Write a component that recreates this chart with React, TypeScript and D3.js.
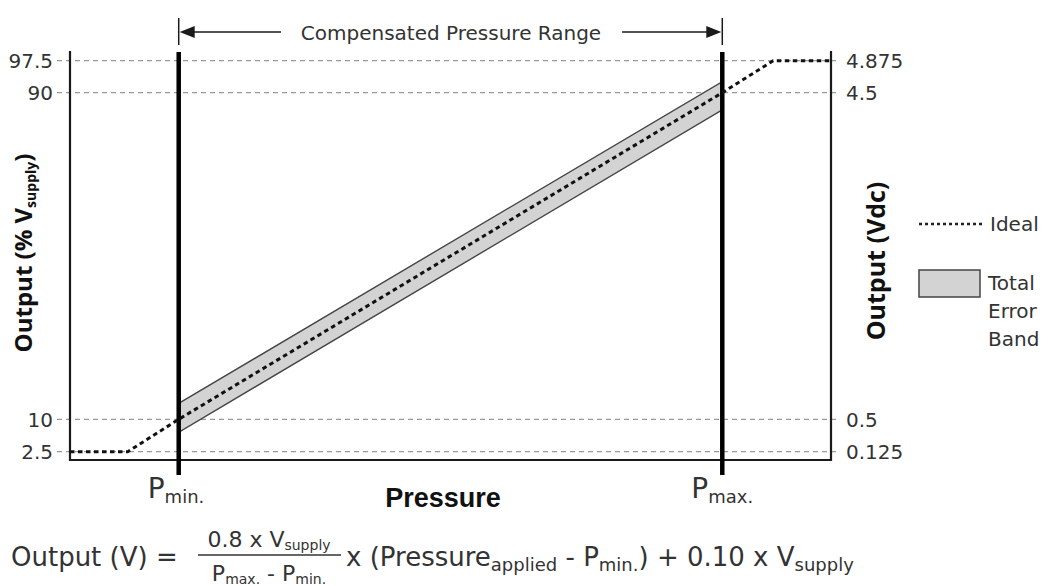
import React from "react";
import * as d3 from "d3";

// ---- data (normalized pressure: 0 = Pmin, 1 = Pmax) ----
const pressureExtent = [-0.2, 1.2];
const pctTicks = [2.5, 10, 90, 97.5];
const pctTickLabels = ["2.5", "10", "90", "97.5"];
const vdcTickLabels = ["0.125", "0.5", "4.5", "4.875"];
const idealP = [-0.2, -0.09375, 0, 1, 1.09375, 1.2];
const idealOut = [2.5, 2.5, 10, 90, 97.5, 97.5];
const bandP = [0, 1];
const bandUpper = [13.9, 92.6];
const bandLower = [7.0, 85.8];
const markerP = [0, 1];
const markerSubs = ["min.", "max."];
const legendBandLines = ["Total", "Error", "Band"];

const W = 1062;
const H = 586;
const TXT = "#333";
const LINE = "#1a1a1a";
const FONT = "'DejaVu Sans', 'Noto Sans', sans-serif";
const BOLD = "'Open Sans', 'Noto Sans', sans-serif";

export default function App() {
  const x = d3.scaleLinear().domain(pressureExtent).range([70, 831]);
  const y = d3
    .scaleLinear()
    .domain(pctTicks)
    .range([451.7, 419.3, 92.7, 60.7]);
  const yTop = 51;
  const yBottom = 460;

  const idealPts = idealP.map((p, i) => [p, idealOut[i]] as [number, number]);
  const idealPath = d3
    .line<[number, number]>()
    .x((d) => x(d[0]))
    .y((d) => y(d[1]))(idealPts) as string;

  const bandPts = bandP.map((p, i) => ({ p, lo: bandLower[i], hi: bandUpper[i] }));
  const bandPath = d3
    .area<{ p: number; lo: number; hi: number }>()
    .x((d) => x(d.p))
    .y0((d) => y(d.lo))
    .y1((d) => y(d.hi))(bandPts) as string;

  const xMin = x(0);
  const xMax = x(1);
  const arrowY = 32;

  return (
    <svg
      width={W}
      height={H}
      style={{ position: "absolute", left: 0, top: 0, background: "#fff" }}
      fontFamily={FONT}
    >
      <rect x={0} y={0} width={W} height={H} fill="#fff" />
      {/* grid lines */}
      {pctTicks.map((t, i) => (
        <g key={"g" + i}>
          <line
            x1={57}
            x2={840}
            y1={y(t)}
            y2={y(t)}
            stroke="#9a9a9a"
            strokeWidth={1.2}
            strokeDasharray="5 4"
          />
          <text
            x={53}
            y={y(t)}
            dy="0.36em"
            textAnchor="end"
            fontSize={20}
            fill={TXT}
          >
            {pctTickLabels[i]}
          </text>
          <text x={846} y={y(t)} dy="0.36em" fontSize={20} fill={TXT}>
            {vdcTickLabels[i]}
          </text>
        </g>
      ))}

      {/* error band */}
      <path d={bandPath} fill="#d3d3d3" stroke="#444" strokeWidth={1.4} />

      {/* axes frame */}
      <path
        d={`M${x(pressureExtent[0])},${yTop}V${yBottom}H${x(pressureExtent[1])}V${yTop}`}
        fill="none"
        stroke={LINE}
        strokeWidth={2.2}
      />

      {/* Pmin / Pmax lines */}
      {markerP.map((p, i) => (
        <line
          key={"m" + i}
          x1={x(p)}
          x2={x(p)}
          y1={52}
          y2={475}
          stroke="#000"
          strokeWidth={4.5}
        />
      ))}

      {/* ideal line */}
      <path
        d={idealPath}
        fill="none"
        stroke="#111"
        strokeWidth={3}
        strokeDasharray="4.5 3.5"
      />

      {/* compensated pressure range bracket */}
      <line x1={xMin} x2={xMin} y1={18} y2={45} stroke={LINE} strokeWidth={1.5} />
      <line x1={xMax} x2={xMax} y1={18} y2={45} stroke={LINE} strokeWidth={1.5} />
      <line x1={xMin + 10} x2={281} y1={arrowY} y2={arrowY} stroke={LINE} strokeWidth={1.5} />
      <line x1={622} x2={xMax - 10} y1={arrowY} y2={arrowY} stroke={LINE} strokeWidth={1.5} />
      <path
        d={`M${xMin + 1},${arrowY}L${xMin + 16},${arrowY - 6}L${xMin + 16},${arrowY + 6}Z`}
        fill={LINE}
      />
      <path
        d={`M${xMax - 1},${arrowY}L${xMax - 16},${arrowY - 6}L${xMax - 16},${arrowY + 6}Z`}
        fill={LINE}
      />
      <text x={451} y={40} textAnchor="middle" fontSize={20} fill={TXT}>
        Compensated Pressure Range
      </text>

      {/* P min / P max labels */}
      {markerP.map((p, i) => (
        <text key={"pl" + i} x={x(p) - 31} y={498} fontSize={28} fill={TXT}>
          P
          <tspan fontSize={18} dy={5}>
            {markerSubs[i]}
          </tspan>
        </text>
      ))}

      <text
        x={443}
        y={507}
        textAnchor="middle"
        fontSize={27}
        fontWeight="bold"
        fontFamily="'Liberation Sans', Arial, sans-serif"
        fill="#111"
      >
        Pressure
      </text>

      {/* axis titles */}
      <text
        transform="translate(32,253) rotate(-90)"
        textAnchor="middle"
        fontSize={24}
        fontWeight="bold"
        fontFamily={BOLD}
        fill="#111"
      >
        Output (% V
        <tspan fontSize={14} dy={4}>
          supply
        </tspan>
        <tspan dy={-4}>)</tspan>
      </text>
      <text
        transform="translate(885,261) rotate(-90)"
        textAnchor="middle"
        fontSize={25}
        fontWeight="bold"
        fontFamily={BOLD}
        fill="#111"
      >
        Output (Vdc)
      </text>

      {/* legend */}
      <line
        x1={919}
        x2={982}
        y1={224}
        y2={224}
        stroke="#222"
        strokeWidth={2.4}
        strokeDasharray="3 3"
      />
      <text x={990} y={231} fontSize={20} fill={TXT}>
        Ideal
      </text>
      <rect x={919} y={270} width={61} height={27} fill="#d3d3d3" stroke="#444" strokeWidth={1.5} />
      {legendBandLines.map((s, i) => (
        <text key={"lb" + i} x={988} y={290 + i * 28} fontSize={20} fill={TXT}>
          {s}
        </text>
      ))}

      {/* formula */}
      <text x={11} y={566} fontSize={26} fill={TXT}>
        Output (V) =
      </text>
      <text x={269} y={547} textAnchor="middle" fontSize={22} fill={TXT}>
        0.8 x V
        <tspan fontSize={14} dy={3}>
          supply
        </tspan>
      </text>
      <line x1={198} x2={341} y1={555} y2={555} stroke={TXT} strokeWidth={1.6} />
      <text x={269} y={581} textAnchor="middle" fontSize={22} fill={TXT}>
        P
        <tspan fontSize={14} dy={3}>
          max.
        </tspan>
        <tspan dy={-3}> - P</tspan>
        <tspan fontSize={14} dy={3}>
          min.
        </tspan>
      </text>
      <text x={346} y={566} fontSize={26} fill={TXT}>
        x (Pressure
        <tspan fontSize={18} dy={5}>
          applied
        </tspan>
        <tspan dy={-5}> - P</tspan>
        <tspan fontSize={18} dy={5}>
          min.
        </tspan>
        <tspan dy={-5}>) + 0.10 x V</tspan>
        <tspan fontSize={18} dy={5}>
          supply
        </tspan>
      </text>
    </svg>
  );
}
